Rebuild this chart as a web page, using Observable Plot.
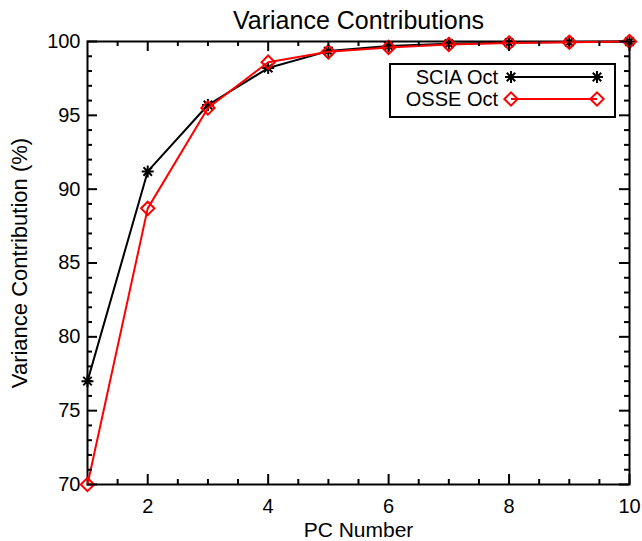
<!DOCTYPE html>
<html>
<head>
<meta charset="utf-8">
<script src="https://cdn.jsdelivr.net/npm/d3@7"></script>
<script src="https://cdn.jsdelivr.net/npm/@observablehq/plot@0.6"></script>
<style>
  html, body { margin: 0; padding: 0; background: #fff; }
  #wrap { position: relative; width: 642px; height: 541px; font-family: "Liberation Sans", Arial, Helvetica, sans-serif; }
  #wrap svg.plot { position: absolute; left: 0; top: 0; }
  .legbox { position: absolute; left: 389px; top: 63px; width: 227px; height: 55px; box-sizing: border-box; border: 2px solid #000; background: #fff; }
  .legtext { position: absolute; right: 144px; font-size: 20px; line-height: 18px; white-space: nowrap; color: #000; }
  .legsample { position: absolute; left: 502px; width: 104px; height: 20px; overflow: visible; }
</style>
</head>
<body>
<div id="wrap"></div>
<script>
// ---- data ----
const pcNumbers = [1, 2, 3, 4, 5, 6, 7, 8, 9, 10];
const sciaOct = [77.0, 91.2, 95.7, 98.2, 99.35, 99.7, 99.85, 99.92, 99.96, 100.0];
const osseOct = [70.0, 88.7, 95.5, 98.6, 99.3, 99.6, 99.8, 99.9, 99.95, 100.0];
const seriesNames = ["SCIA Oct", "OSSE Oct"];
const seriesColors = ["#000000", "#ff0000"];
const xMajorTicks = [2, 4, 6, 8, 10];
const xMinorTicks = [1.5, 2.5, 3, 3.5, 4.5, 5, 5.5, 6.5, 7, 7.5, 8.5, 9, 9.5];
const yMajorTicks = [70, 75, 80, 85, 90, 95, 100];
const yMinorTicks = [71, 72, 73, 74, 76, 77, 78, 79, 81, 82, 83, 84, 86, 87, 88, 89, 91, 92, 93, 94, 96, 97, 98, 99];
const titleText = "Variance Contributions";
const xLabel = "PC Number";
const yLabel = "Variance Contribution (%)";

const scia = pcNumbers.map((x, i) => ({x, y: sciaOct[i]}));
const osse = pcNumbers.map((x, i) => ({x, y: osseOct[i]}));

// IDL-like asterisk (plus + x)
const asterisk = {
  draw(ctx, size) {
    const r = Math.sqrt(size / Math.PI);
    const d = r * Math.SQRT1_2;
    ctx.moveTo(-r, 0); ctx.lineTo(r, 0);
    ctx.moveTo(0, -r); ctx.lineTo(0, r);
    ctx.moveTo(-d, -d); ctx.lineTo(d, d);
    ctx.moveTo(-d, d); ctx.lineTo(d, -d);
  }
};

const W = 642, H = 541, mL = 87, mR = 13, mT = 41, mB = 57;
const fw = W - mL - mR, fh = H - mT - mB;
const major = 10, minor = 5;
const font = "Liberation Sans, Arial, Helvetica, sans-serif";
const tk = {stroke: "#000", strokeWidth: 2};

const chart = Plot.plot({
  width: W, height: H,
  marginLeft: mL, marginRight: mR, marginTop: mT, marginBottom: mB,
  style: {fontFamily: font, fontSize: "20px", background: "white", color: "black"},
  x: {domain: [1, 10], label: null},
  y: {domain: [70, 100], label: null},
  marks: [
    Plot.frame({stroke: "black", strokeWidth: 2}),
    // tick labels
    Plot.axisX(xMajorTicks, {anchor: "bottom", tickSize: 0, tickPadding: 14, fontSize: 20, label: null}),
    Plot.axisY(yMajorTicks, {anchor: "left", tickSize: 0, tickPadding: 7, fontSize: 20, label: null}),
    // series
    Plot.line(scia, {x: "x", y: "y", stroke: seriesColors[0], strokeWidth: 2}),
    Plot.dot(scia, {x: "x", y: "y", symbol: asterisk, r: 6, stroke: seriesColors[0], strokeWidth: 2, fill: "none"}),
    Plot.line(osse, {x: "x", y: "y", stroke: seriesColors[1], strokeWidth: 2}),
    Plot.dot(osse, {x: "x", y: "y", symbol: "diamond2", r: 6, stroke: seriesColors[1], strokeWidth: 2, fill: "none"}),
    // titles
    Plot.text([titleText], {frameAnchor: "top", textAnchor: "middle", lineAnchor: "bottom", dy: -13, fontSize: 25, text: d => d}),
    Plot.text([xLabel], {frameAnchor: "bottom", textAnchor: "middle", lineAnchor: "bottom", dy: 52, fontSize: 21, text: d => d}),
    Plot.text([yLabel], {frameAnchor: "left", textAnchor: "middle", lineAnchor: "middle", rotate: -90, dx: -68, fontSize: 22, text: d => d}),
    // inward ticks on all four sides (drawn last)
    Plot.tickX(xMajorTicks, {x: d => d, insetTop: fh - major, ...tk}),
    Plot.tickX(xMinorTicks, {x: d => d, insetTop: fh - minor, ...tk}),
    Plot.tickX(xMajorTicks, {x: d => d, insetBottom: fh - major, ...tk}),
    Plot.tickX(xMinorTicks, {x: d => d, insetBottom: fh - minor, ...tk}),
    Plot.tickY(yMajorTicks, {y: d => d, insetRight: fw - major, ...tk}),
    Plot.tickY(yMinorTicks, {y: d => d, insetRight: fw - minor, ...tk}),
    Plot.tickY(yMajorTicks, {y: d => d, insetLeft: fw - major, ...tk}),
    Plot.tickY(yMinorTicks, {y: d => d, insetLeft: fw - minor, ...tk})
  ]
});
chart.classList.add("plot");
const wrap = document.getElementById("wrap");
wrap.appendChild(chart);

// ---- legend ----
const box = document.createElement("div");
box.className = "legbox";
wrap.appendChild(box);
const symbols = [asterisk, d3.symbolDiamond2];
const rowTops = [68, 90];
seriesNames.forEach((name, i) => {
  const t = document.createElement("div");
  t.className = "legtext";
  t.style.top = rowTops[i] + "px";
  t.textContent = name;
  wrap.appendChild(t);
  const svg = d3.create("svg").attr("class", "legsample").attr("width", 104).attr("height", 20)
    .style("top", (rowTops[i] - 1) + "px");
  svg.append("line").attr("x1", 9).attr("x2", 95).attr("y1", 10).attr("y2", 10)
    .attr("stroke", seriesColors[i]).attr("stroke-width", 2);
  const r = 6;
  [9, 95].forEach(cx => {
    svg.append("path").attr("d", d3.symbol(symbols[i], r * r * Math.PI)())
      .attr("transform", `translate(${cx},10)`)
      .attr("fill", "none").attr("stroke", seriesColors[i]).attr("stroke-width", 2);
  });
  wrap.appendChild(svg.node());
});
</script>
</body>
</html>
